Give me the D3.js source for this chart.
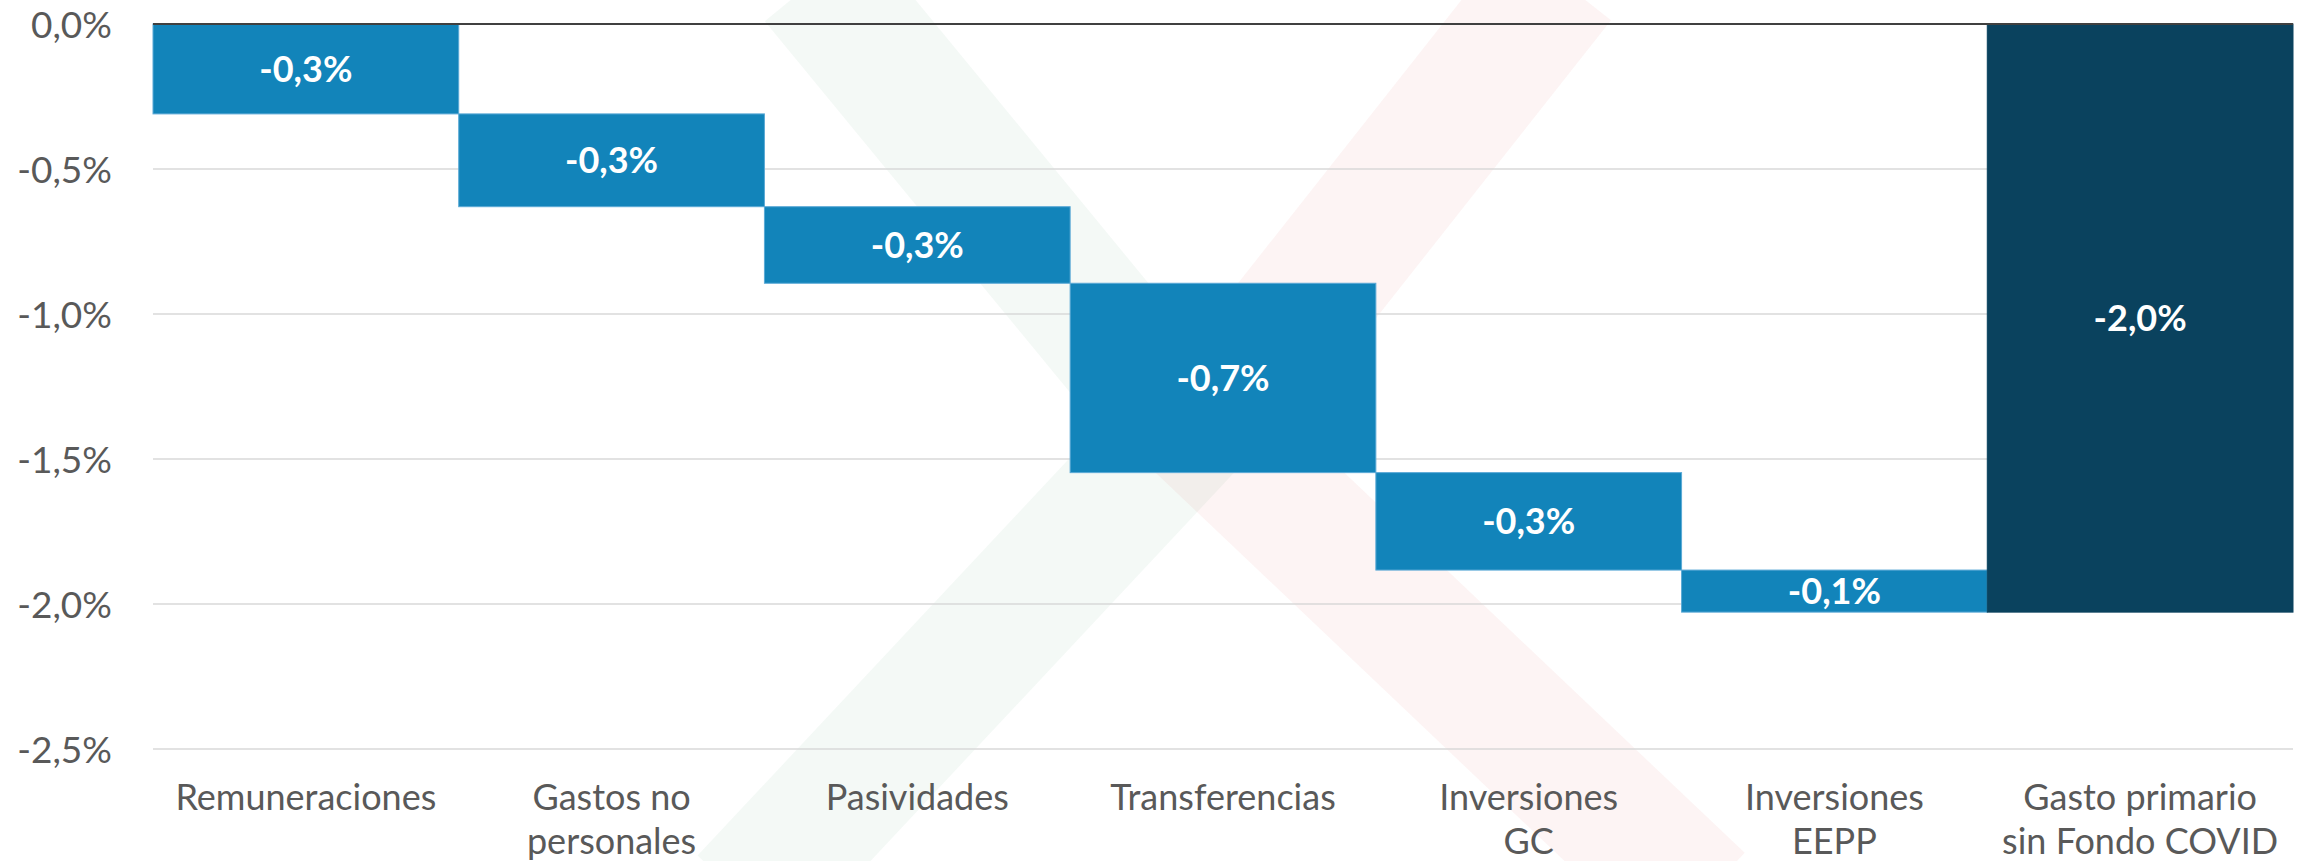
<!DOCTYPE html>
<html>
<head>
<meta charset="utf-8">
<script src="https://cdn.jsdelivr.net/npm/d3@7"></script>
<style>
  html, body { margin: 0; padding: 0; background: #ffffff; }
  svg { display: block; }
</style>
</head>
<body>
<svg id="chart" width="2299" height="861"></svg>
<script>
// ---- data ----
const categories = ["Remuneraciones", "Gastos no personales", "Pasividades", "Transferencias", "Inversiones GC", "Inversiones EEPP", "Gasto primario sin Fondo COVID"];
const categoryLines = [["Remuneraciones"], ["Gastos no", "personales"], ["Pasividades"], ["Transferencias"], ["Inversiones", "GC"], ["Inversiones", "EEPP"], ["Gasto primario", "sin Fondo COVID"]];
const changes = [-0.31, -0.32, -0.264, -0.653, -0.336, -0.145];   // % of GDP, step contributions
const totalLabel = "Gasto primario sin Fondo COVID";
const yTicks = [0, -0.5, -1.0, -1.5, -2.0, -2.5];

// ---- layout ----
const W = 2299, H = 861;
const margin = { left: 153, right: 6, top: 24, bottom: 112 };
const svg = d3.select("#chart");

const loc = d3.formatLocale({ decimal: ",", thousands: ".", grouping: [3], currency: ["", ""], minus: "-" });
const fmt1 = loc.format(".1f");
const pct = v => fmt1(v) + "%";

// build waterfall rows
let cum = 0;
const rows = changes.map((v, i) => {
  const start = cum; cum += v;
  return { cat: categories[i], start, end: cum, value: v, total: false };
});
rows.push({ cat: totalLabel, start: 0, end: cum, value: cum, total: true });

const x = d3.scaleBand().domain(categories).range([margin.left, W - margin.right]).padding(0);
const y = d3.scaleLinear().domain([-2.5, 0]).range([749, margin.top]);

// ---- watermark (faint logo) ----
const wm = svg.append("g").attr("class", "watermark");
const line = d3.line();
wm.append("path")
  .attr("d", line([[815, -20], [1185, 430], [745, 900]]))
  .attr("fill", "none").attr("stroke", "#2f8f63").attr("stroke-opacity", 0.055)
  .attr("stroke-width", 130).attr("stroke-linejoin", "miter");
wm.append("path")
  .attr("d", line([[1560, -20], [1205, 430], [1700, 900]]))
  .attr("fill", "none").attr("stroke", "#d23a3a").attr("stroke-opacity", 0.055)
  .attr("stroke-width", 130).attr("stroke-linejoin", "miter");

// ---- gridlines ----
svg.append("g")
  .selectAll("line")
  .data(yTicks.filter(t => t !== 0))
  .join("line")
  .attr("x1", margin.left).attr("x2", W - margin.right)
  .attr("y1", d => y(d)).attr("y2", d => y(d))
  .attr("stroke", "#d9d9d9").attr("stroke-width", 1.5);

// ---- bars ----
svg.append("g")
  .selectAll("rect")
  .data(rows)
  .join("rect")
  .attr("x", d => x(d.cat))
  .attr("width", x.bandwidth())
  .attr("y", d => y(Math.max(d.start, d.end)))
  .attr("height", d => Math.abs(y(d.end) - y(d.start)))
  .attr("fill", d => d.total ? "#0a425e" : "#1284ba")
  .attr("stroke", d => d.total ? "#0a425e" : "#5aa9d6")
  .attr("stroke-width", 1);

// ---- zero line ----
svg.append("line")
  .attr("x1", margin.left).attr("x2", W - margin.right)
  .attr("y1", y(0)).attr("y2", y(0))
  .attr("stroke", "#404040").attr("stroke-width", 2);

// ---- bar labels ----
svg.append("g")
  .selectAll("text")
  .data(rows)
  .join("text")
  .attr("x", d => x(d.cat) + x.bandwidth() / 2)
  .attr("y", d => (y(d.start) + y(d.end)) / 2)
  .attr("dy", "0.36em")
  .attr("text-anchor", "middle")
  .attr("font-family", "Lato, 'Open Sans', sans-serif")
  .attr("font-weight", 700)
  .attr("font-size", 36)
  .attr("fill", "#ffffff")
  .text(d => pct(d.value));

// ---- y axis ----
const yAxis = d3.axisLeft(y).tickValues(yTicks).tickSize(0).tickPadding(0).tickFormat(pct);
const gy = svg.append("g").attr("transform", `translate(112,0)`).call(yAxis);
gy.select(".domain").remove();
gy.selectAll("text")
  .attr("font-family", "Lato, 'Open Sans', sans-serif")
  .attr("font-size", 37)
  .attr("fill", "#595959")
  .attr("dy", "0.36em");

// ---- x axis (category labels) ----
const xAxis = d3.axisBottom(x).tickSize(0).tickFormat("");
const gx = svg.append("g").attr("transform", `translate(0,${y(-2.5)})`).call(xAxis);
gx.select(".domain").remove();
gx.selectAll(".tick").each(function (d, i) {
  const t = d3.select(this).append("text")
    .attr("text-anchor", "middle")
    .attr("font-family", "Lato, 'Open Sans', sans-serif")
    .attr("font-size", 36)
    .attr("fill", "#595959");
  categoryLines[i].forEach((ln, k) => {
    t.append("tspan").attr("x", 0).attr("y", 61 + k * 44).text(ln);
  });
});
</script>
</body>
</html>
